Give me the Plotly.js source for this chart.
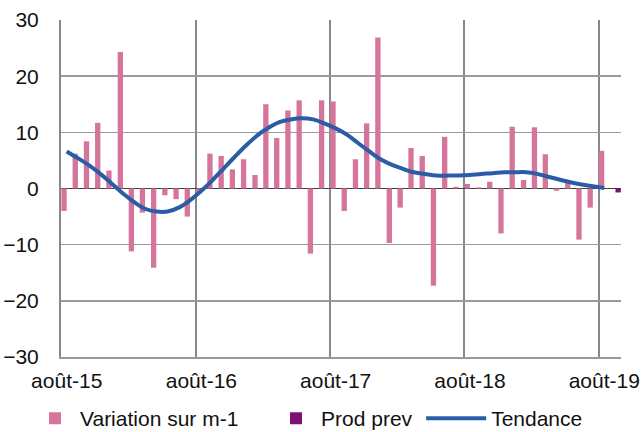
<!DOCTYPE html>
<html>
<head>
<meta charset="utf-8">
<script src="https://cdn.plot.ly/plotly-3.0.1.min.js"></script>
<style>html,body{margin:0;padding:0;background:#fff;}#chart{width:641px;height:432px;}</style>
</head>
<body>
<div id="chart"></div>
<script>
var months = ['2015-08','2015-09','2015-10','2015-11','2015-12',
  '2016-01','2016-02','2016-03','2016-04','2016-05','2016-06','2016-07','2016-08','2016-09','2016-10','2016-11','2016-12',
  '2017-01','2017-02','2017-03','2017-04','2017-05','2017-06','2017-07','2017-08','2017-09','2017-10','2017-11','2017-12',
  '2018-01','2018-02','2018-03','2018-04','2018-05','2018-06','2018-07','2018-08','2018-09','2018-10','2018-11','2018-12',
  '2019-01','2019-02','2019-03','2019-04','2019-05','2019-06','2019-07','2019-08'];
var variation = [-4.0, 6.2, 8.4, 11.7, 3.2,
  24.3, -11.2, -4.3, -14.1, -1.2, -1.9, -5.0, -0.6, 6.2, 5.8, 3.4, 5.2,
  2.4, 15.0, 9.0, 13.9, 15.7, -11.6, 15.7, 15.5, -4.0, 5.2, 11.6, 26.9,
  -9.7, -3.4, 7.2, 5.8, -17.3, 9.2, 0.3, 0.8, 0.2, 1.2, -8.0, 11.0,
  1.5, 10.9, 6.1, -0.4, 1.0, -9.1, -3.4, 6.7];
var tendance = [6.6, 5.4, 4.1, 2.6, 0.9,
  -0.9, -2.4, -3.6, -4.1, -4.1, -3.4, -2.1, -0.4, 1.5, 3.6, 5.7, 7.7,
  9.5, 10.8, 11.8, 12.3, 12.5, 12.3, 11.6, 10.7, 9.6, 8.1, 6.6, 5.2,
  4.2, 3.5, 2.9, 2.6, 2.3, 2.3, 2.3, 2.4, 2.6, 2.7, 2.9, 2.9,
  2.9, 2.6, 2.1, 1.6, 1.1, 0.7, 0.4, 0.1];
var prodPrevMonths = ['2019-09'];
var prodPrev = [-0.7];
var tickDates = ['2015-08-16 12:00','2016-08-16 12:00','2017-08-16 12:00','2018-08-16 12:00','2019-08-16 12:00'];
var tickLabels = ['août-15','août-16','août-17','août-18','août-19'];

var FONT = 'Liberation Sans, Arial, sans-serif';
var traces = [
  {type:'bar', name:'Variation sur m-1', x:months, y:variation,
   xperiod:'M1', xperiodalignment:'middle', alignmentgroup:'a', offsetgroup:'1', legend:'legend',
   marker:{color:'#D5759B', line:{width:0}}},
  {type:'bar', name:'Prod prev', x:prodPrevMonths, y:prodPrev,
   xperiod:'M1', xperiodalignment:'middle', alignmentgroup:'a', offsetgroup:'2', legend:'legend2',
   marker:{color:'#7B1170', line:{width:0}}},
  {type:'scatter', mode:'lines', name:'Tendance', x:months, y:tendance,
   xperiod:'M1', xperiodalignment:'middle', legend:'legend3',
   line:{color:'#2A5CA8', width:4, shape:'spline'}}
];
function leg(x, iw) {
  return {orientation:'h', xref:'container', yref:'container', x:x, xanchor:'left', y:0.031, yanchor:'middle',
          font:{family:FONT, size:21, color:'#111'}, itemwidth:iw, bgcolor:'rgba(0,0,0,0)'};
}
var layout = {
  width:641, height:432,
  margin:{l:61, r:20, t:20, b:75, autoexpand:false},
  paper_bgcolor:'#fff', plot_bgcolor:'#fff',
  font:{family:FONT, size:21, color:'#111'},
  barmode:'group', bargap:0.02, bargroupgap:0,
  showlegend:true,
  legend:leg(0.0468, 40),
  legend2:leg(0.4228, 40),
  legend3:leg(0.657, 60),
  xaxis:{type:'date', range:['2015-08-01','2019-10-01'],
         tickmode:'array', tickvals:tickDates, ticktext:tickLabels,
         showgrid:false, zeroline:false,
         ticks:'outside', ticklen:4, tickcolor:'rgba(0,0,0,0)',
         showline:true, linecolor:'#999', linewidth:1.5,
         minor:{tick0:'2015-08-01', dtick:'M12', showgrid:true, gridcolor:'#888', gridwidth:2, ticks:''},
         tickfont:{family:FONT, size:21, color:'#111'}},
  yaxis:{range:[-30,30], dtick:10, tick0:0,
         showgrid:true, gridcolor:'#9a9a9a', gridwidth:1.5,
         zeroline:true, zerolinecolor:'#404040', zerolinewidth:1.5,
         showline:true, linecolor:'#888', linewidth:2,
         ticks:'outside', ticklen:16, tickcolor:'rgba(0,0,0,0)',
         tickfont:{family:FONT, size:21, color:'#111'}}
};
Plotly.newPlot('chart', traces, layout, {displayModeBar:false, staticPlot:true});
</script>
</body>
</html>
